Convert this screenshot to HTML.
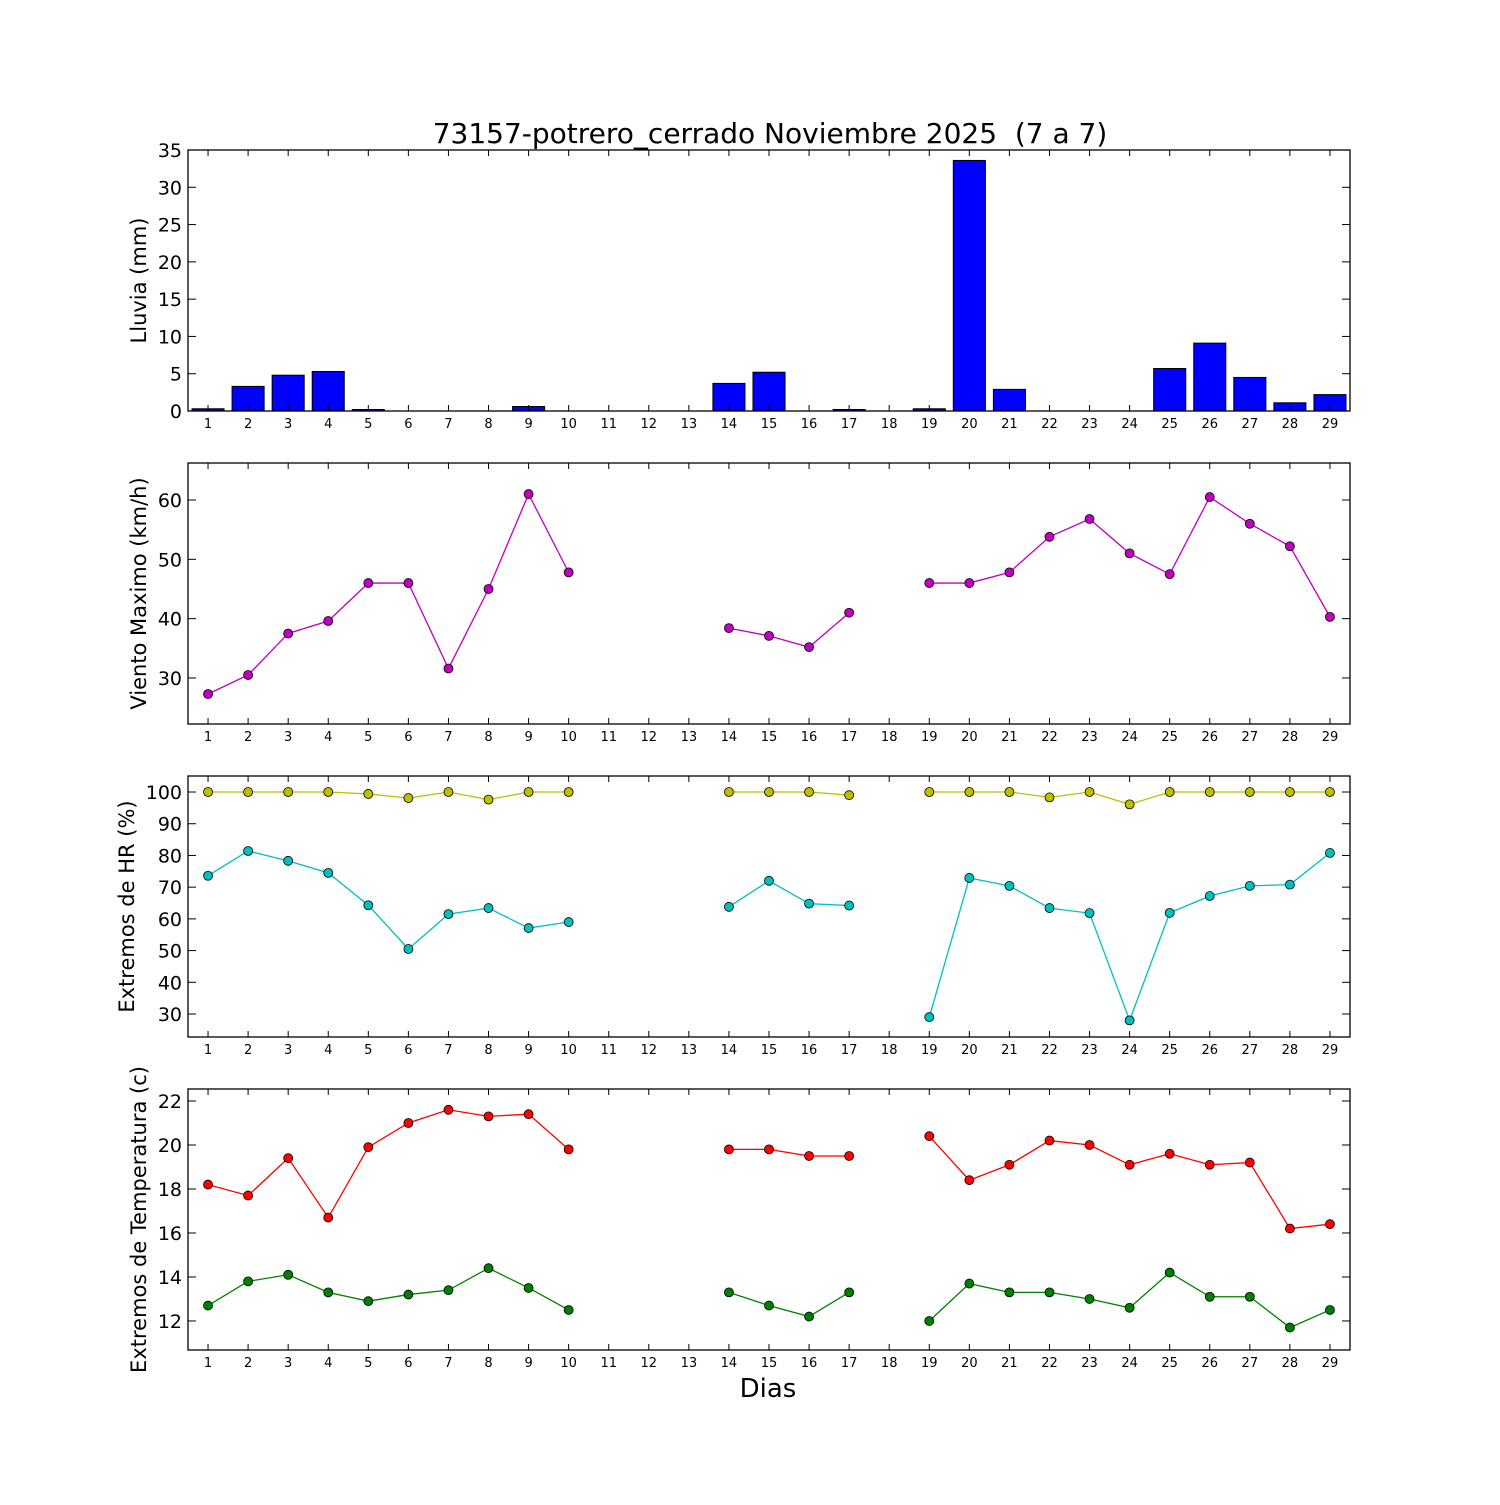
<!DOCTYPE html>
<html><head><meta charset="utf-8">
<style>
html,body{margin:0;padding:0;background:#fff;}
svg text{font-family:"DejaVu Sans","Liberation Sans",sans-serif;fill:#000;}
</style></head>
<body>
<svg id="chart" width="1500" height="1500" xmlns="http://www.w3.org/2000/svg">
<rect width="1500" height="1500" fill="#fff"/>
<text x="770" y="143" font-size="28" text-anchor="middle">73157-potrero_cerrado Noviembre 2025 &#160;(7 a 7)</text>
<text x="768" y="1397" font-size="26" text-anchor="middle">Dias</text>
</svg>
<script>
const days = [1,2,3,4,5,6,7,8,9,10,11,12,13,14,15,16,17,18,19,20,21,22,23,24,25,26,27,28,29];
const rain = [0.3,3.3,4.8,5.3,0.2,0,0,0,0.6,0,0,0,0,3.7,5.2,0,0.2,0,0.3,33.6,2.9,0,0,0,5.7,9.1,4.5,1.1,2.2];
const wind = [27.3,30.5,37.5,39.6,46,46,31.6,45,61,47.8,null,null,null,38.4,37.1,35.2,41,null,46,46,47.8,53.8,56.8,51,47.5,60.5,56,52.2,40.3];
const hrMax = [100,100,100,100,99.4,98.1,100,97.6,100,100,null,null,null,100,100,100,99,null,100,100,100,98.3,100,96.1,100,100,100,100,100];
const hrMin = [73.6,81.4,78.3,74.5,64.3,50.5,61.5,63.4,57.1,59,null,null,null,63.8,72,64.8,64.2,null,29,72.9,70.4,63.4,61.8,28,61.9,67.2,70.4,70.8,80.8];
const tMax = [18.2,17.7,19.4,16.7,19.9,21,21.6,21.3,21.4,19.8,null,null,null,19.8,19.8,19.5,19.5,null,20.4,18.4,19.1,20.2,20,19.1,19.6,19.1,19.2,16.2,16.4];
const tMin = [12.7,13.8,14.1,13.3,12.9,13.2,13.4,14.4,13.5,12.5,null,null,null,13.3,12.7,12.2,13.3,null,12,13.7,13.3,13.3,13,12.6,14.2,13.1,13.1,11.7,12.5];
const rainTicks = [0,5,10,15,20,25,30,35];
const windTicks = [30,40,50,60];
const hrTicks = [30,40,50,60,70,80,90,100];
const tTicks = [12,14,16,18,20,22];

const NS='http://www.w3.org/2000/svg';
const svg=document.getElementById('chart');
const L=188,R=1350;
function mk(tag,attrs,parent){const e=document.createElementNS(NS,tag);for(const k in attrs)e.setAttribute(k,attrs[k]);(parent||svg).appendChild(e);return e;}
const xS=d=>L+(d-0.5)*(R-L)/29;

function panel(name,top,bot,ymin,ymax,ticks,label,labelX){
  const g=mk('g',{});
  
  
  const yS=v=>bot-(v-ymin)*(bot-top)/(ymax-ymin);
  return {g,yS,top,bot,ticks,label,labelX};
}
function frame(p){
  const {g,yS,top,bot,ticks,label,labelX}=p;
  const fr=mk('rect',{x:L,y:top,width:R-L,height:bot-top,fill:'none',stroke:'#000','stroke-width':1.3},g);
  
  
  days.forEach(d=>{
    const x=xS(d);
    mk('line',{x1:x,y1:bot,x2:x,y2:bot-6,stroke:'#000'},g);
    mk('line',{x1:x,y1:top,x2:x,y2:top+6,stroke:'#000'},g);
    const t=mk('text',{x:x,y:bot+17,'font-size':13,'text-anchor':'middle'},g);
    
    
    t.textContent=d;
  });
  ticks.forEach(v=>{
    const y=yS(v);
    mk('line',{x1:L,y1:y,x2:L+8,y2:y,stroke:'#000'},g);
    mk('line',{x1:R,y1:y,x2:R-8,y2:y,stroke:'#000'},g);
    const t=mk('text',{x:L-6,y:y+7,'font-size':19,'text-anchor':'end'},g);
    
    
    t.textContent=v;
  });
  const cy=(top+bot)/2;
  const yl=mk('text',{x:0,y:0,'font-size':21,'text-anchor':'middle',transform:`translate(${labelX},${cy}) rotate(-90)`},g);
  
  
  yl.textContent=label;
}
function series(p,vals,color,name){
  const {g,yS}=p;
  let seg=[];
  const segs=[];
  vals.forEach((v,i)=>{ if(v===null){if(seg.length)segs.push(seg);seg=[];} else seg.push([xS(days[i]),yS(v)]); });
  if(seg.length)segs.push(seg);
  segs.forEach(s=>{
    const pl=mk('polyline',{points:s.map(q=>q.join(',')).join(' '),fill:'none',stroke:color,'stroke-width':1.3},g);
    
    
  });
  vals.forEach((v,i)=>{
    if(v===null)return;
    const c=mk('circle',{cx:xS(days[i]),cy:yS(v),r:4.5,fill:color,stroke:'#000','stroke-width':0.8},g);
    
    
  });
}

const p1=panel('rain-panel',150,411,0,35,rainTicks,'Lluvia (mm)',146);
rain.forEach((v,i)=>{
  const x0=xS(days[i]-0.4),x1=xS(days[i]+0.4);
  const y=p1.yS(v);
  const b=mk('rect',{x:x0,y:y,width:x1-x0,height:Math.max(p1.bot-y,0),fill:'#0000ff',stroke:'#000','stroke-width':1},p1.g);
  
  
});
frame(p1);

const p2=panel('wind-panel',463,724,22.24,66.24,windTicks,'Viento Maximo (km/h)',146);
series(p2,wind,'#bf00bf','wind');
frame(p2);

const p3=panel('humidity-panel',776,1037,22.75,105.05,hrTicks,'Extremos de HR (%)',134);
series(p3,hrMax,'#bfbf00','hr-max');
series(p3,hrMin,'#00bfbf','hr-min');
frame(p3);

const p4=panel('temperature-panel',1089,1350,10.68,22.545,tTicks,'Extremos de Temperatura (c)',146);
series(p4,tMax,'#ff0000','temp-max');
series(p4,tMin,'#008000','temp-min');
frame(p4);
</script>
</body></html>
